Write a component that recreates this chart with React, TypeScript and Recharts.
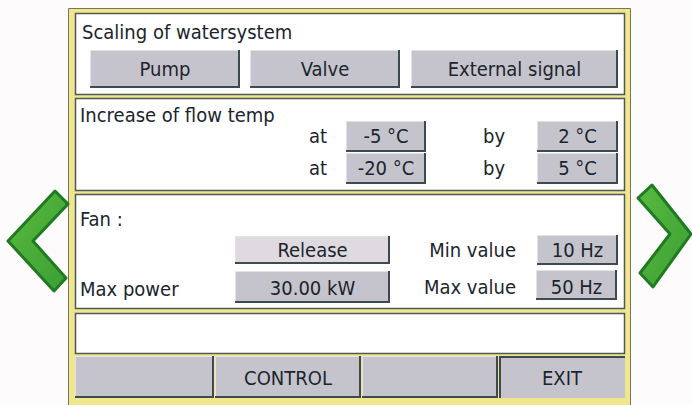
import { Surface, Rectangle, Polygon, Text, Layer } from 'recharts';

const scalingOptions = ['Pump', 'Valve', 'External signal'];
const flowAt = ['-5 °C', '-20 °C'];
const flowBy = ['2 °C', '5 °C'];
const fanValues = ['Release', '30.00 kW'];
const fanLimitLabels = ['Min value', 'Max value'];
const fanLimits = ['10 Hz', '50 Hz'];
const footerButtons = ['', 'CONTROL', '', 'EXIT'];

const FONT = '"DejaVu Sans Condensed", "DejaVu Sans", sans-serif';
const FS = 20;
const INK = '#1b252d';
const BTN = '#c5c4cc';
const BTN_LIGHT = '#dedadf';
const EDGE = '#3d4a52';

// layout of the panel
const sections = [
  { y: 13, h: 81 },
  { y: 98, h: 92 },
  { y: 194, h: 114 },
  { y: 313, h: 40 },
];
const scalingBoxes = [
  { x: 90, w: 150 },
  { x: 250, w: 150 },
  { x: 411, w: 207 },
];
const rowY = [121, 153];
const fanRowY = [236, 271];
const footerBoxes = [
  { x: 75, w: 139 },
  { x: 215, w: 146 },
  { x: 362, w: 136 },
  { x: 499, w: 126 },
];

type BtnProps = { x: number; y: number; w: number; h: number; label: string; fill?: string; baseline: number; inset?: boolean };

const Btn = ({ x, y, w, h, label, fill = BTN, baseline, inset }: BtnProps) => (
  <Layer>
    <Rectangle x={x} y={y} width={w} height={h} fill={fill} />
    {inset ? (
      <>
        <line x1={x + 1} y1={y} x2={x + 1} y2={y + h} stroke={EDGE} strokeWidth={2} />
        <line x1={x} y1={y + 1} x2={x + w} y2={y + 1} stroke={EDGE} strokeWidth={2} />
      </>
    ) : (
      <>
        <line x1={x} y1={y + 0.5} x2={x + w} y2={y + 0.5} stroke="#e4e2e8" strokeWidth={1} />
        <line x1={x + 0.5} y1={y} x2={x + 0.5} y2={y + h} stroke="#e4e2e8" strokeWidth={1} />
        <line x1={x} y1={y + h - 1} x2={x + w} y2={y + h - 1} stroke={EDGE} strokeWidth={2} />
        <line x1={x + w - 1} y1={y} x2={x + w - 1} y2={y + h} stroke={EDGE} strokeWidth={2} />
      </>
    )}
    {label && (
      <Text x={x + w / 2} y={baseline} textAnchor="middle" fontFamily={FONT} fontSize={FS} fill={INK}>
        {label}
      </Text>
    )}
  </Layer>
);

const Label = ({ x, y, children, anchor = 'start' }: { x: number; y: number; children: string; anchor?: 'start' | 'end' | 'middle' }) => (
  <Text x={x} y={y} textAnchor={anchor} fontFamily={FONT} fontSize={FS} fill={INK}>
    {children}
  </Text>
);

const leftArrow = [
  { x: 55, y: 191 },
  { x: 68, y: 204 },
  { x: 33, y: 241 },
  { x: 66, y: 278 },
  { x: 54, y: 291 },
  { x: 8, y: 241 },
];
const rightArrow = [
  { x: 652, y: 185 },
  { x: 691, y: 234 },
  { x: 653, y: 287 },
  { x: 640, y: 273 },
  { x: 670, y: 234 },
  { x: 638, y: 198 },
];

export default function App() {
  return (
    <div style={{ position: 'absolute', left: 0, top: 0, width: 692, height: 405, background: '#fdfbfb' }}>
      <Surface width={692} height={405}>
        <defs>
          <linearGradient id="grn" x1="0" y1="0" x2="1" y2="1">
            <stop offset="0%" stopColor="#5abb3e" />
            <stop offset="100%" stopColor="#3a9e34" />
          </linearGradient>
        </defs>

        {/* frame */}
        <Rectangle x={68.5} y={8.5} width={562} height={410} fill="#efe68e" stroke="#77765a" strokeWidth={1} />

        {sections.map((s, i) => (
          <Rectangle key={i} x={75.5} y={s.y + 0.5} width={549} height={s.h} fill="#ffffff" stroke="#4e5a55" strokeWidth={1.5} />
        ))}

        {/* scaling */}
        <Label x={82} y={39}>Scaling of watersystem</Label>
        {scalingOptions.map((o, i) => (
          <Btn key={o} x={scalingBoxes[i].x} y={50} w={scalingBoxes[i].w} h={38} label={o} baseline={76} />
        ))}

        {/* flow temp */}
        <Label x={80} y={122}>Increase of flow temp</Label>
        {flowAt.map((v, i) => (
          <Layer key={v}>
            <Label x={309} y={rowY[i] + 22}>at</Label>
            <Btn x={346} y={rowY[i]} w={80} h={31} label={v} baseline={rowY[i] + 22} />
            <Label x={483} y={rowY[i] + 22}>by</Label>
            <Btn x={537} y={rowY[i]} w={81} h={31} label={flowBy[i]} baseline={rowY[i] + 22} />
          </Layer>
        ))}

        {/* fan */}
        <Label x={80} y={226}>Fan :</Label>
        <Label x={80} y={296}>Max power</Label>
        {fanValues.map((v, i) => (
          <Btn key={v} x={235} y={fanRowY[i]} w={155} h={i === 0 ? 28 : 32} label={v} fill={i === 0 ? BTN_LIGHT : BTN} baseline={fanRowY[i] + (i === 0 ? 21 : 24)} />
        ))}
        {fanLimitLabels.map((l, i) => (
          <Layer key={l}>
            <Label x={516} y={fanRowY[i] + (i === 0 ? 21 : 23)} anchor="end">{l}</Label>
            <Btn x={537 - i} y={fanRowY[i] - 1} w={81} h={30} label={fanLimits[i]} baseline={fanRowY[i] + (i === 0 ? 21 : 23)} />
          </Layer>
        ))}

        {/* footer */}
        {footerButtons.map((b, i) => (
          <Btn key={i} x={footerBoxes[i].x} y={356} w={footerBoxes[i].w} h={42} label={b} baseline={385} inset={i === 3} />
        ))}

        {/* navigation arrows */}
        <Polygon points={leftArrow} fill="url(#grn)" stroke="#1f7a22" strokeWidth={3} strokeLinejoin="round" />
        <Polygon points={rightArrow} fill="url(#grn)" stroke="#1f7a22" strokeWidth={3} strokeLinejoin="round" />
      </Surface>
    </div>
  );
}
